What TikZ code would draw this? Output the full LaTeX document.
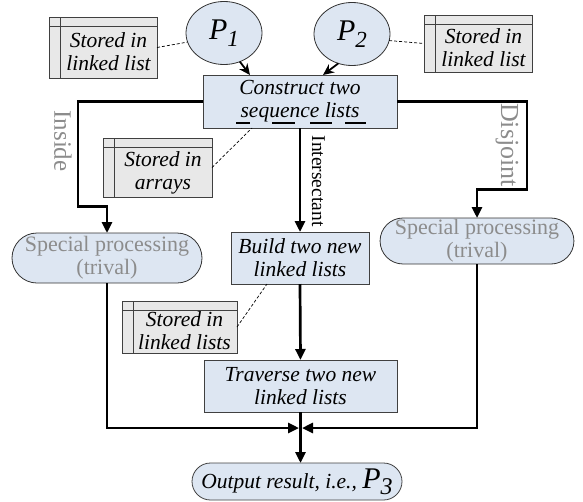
\documentclass[tikz,border=0pt]{standalone}
\usepackage{fontspec}
\setmainfont{Liberation Serif}
\usetikzlibrary{arrows.meta,shapes.geometric,shapes.misc,calc}
\definecolor{boxblue}{RGB}{221,230,242}
\definecolor{storegray}{RGB}{232,232,232}
\definecolor{labelgray}{RGB}{140,140,140}
\begin{document}
\begin{tikzpicture}[x=1pt,y=-1pt,
  every node/.style={inner sep=0pt, outer sep=0pt},
  proc/.style={draw=black!75, line width=0.8pt, fill=boxblue, align=center,
    font=\fontsize{21.5}{23}\selectfont\itshape},
  pnode/.style={ellipse, draw=black!80, line width=0.8pt, fill=boxblue,
    minimum width=76pt, minimum height=63pt},
  store/.style={draw=black!75, line width=0.8pt, fill=storegray,
    path picture={\draw[black!75, line width=0.7pt]
      ([xshift=11pt]path picture bounding box.north west) -- ([xshift=11pt]path picture bounding box.south west)
      ([yshift=-9pt]path picture bounding box.north west) -- ([yshift=-9pt]path picture bounding box.north east);}},
  storetext/.style={align=center, font=\fontsize{21.5}{23}\selectfont\itshape},
  spec/.style={rounded rectangle, draw=black!80, line width=0.8pt, fill=boxblue, align=center,
    text=labelgray, font=\fontsize{22}{23}\selectfont},
  flow/.style={line width=2.7pt, -{Triangle[length=11pt,width=10pt]}},
  parrow/.style={line width=1.8pt, -{Stealth[length=11pt,width=10pt]}},
  note/.style={line width=0.7pt, dash pattern=on 3pt off 2pt},
  side/.style={rotate=-90, text=labelgray}
]
\useasboundingbox (0,0) rectangle (583,501);

% ellipses
\node[pnode] (P1) at (224,33) {\fontsize{30}{30}\selectfont\itshape P\raisebox{-7pt}{\fontsize{23}{23}\selectfont 1}};
\node[pnode] (P2) at (352,34) {\fontsize{30}{30}\selectfont\itshape P\raisebox{-7pt}{\fontsize{23}{23}\selectfont 2}};

% storage boxes
\node[store, minimum width=108pt, minimum height=61pt,
  label={[storetext, xshift=5.5pt, yshift=-4pt]center:Stored in\\linked list}] (ls) at (103,47.5) {};
\node[store, minimum width=108pt, minimum height=57pt,
  label={[storetext, xshift=5.5pt, yshift=-4pt]center:Stored in\\linked list}] (rs) at (478,43.5) {};
\node[store, minimum width=109pt, minimum height=59pt,
  label={[storetext, xshift=5.5pt, yshift=-5pt]center:Stored in\\arrays}] (arr) at (157.5,167.5) {};
\node[store, minimum width=115pt, minimum height=52pt,
  label={[storetext, xshift=5pt, yshift=-4pt]center:Stored in\\linked lists}] (ll) at (179.5,327) {};

% process boxes
\node[proc, minimum width=194pt, minimum height=53pt] (con) at (300,101.5) {Construct two\\sequence lists};
\node[proc, minimum width=138pt, minimum height=52pt] (build) at (300,258) {Build two new\\linked lists};
\node[proc, minimum width=193pt, minimum height=52pt] (trav) at (300.5,386) {Traverse two new\\linked lists};
\node[proc, rounded rectangle, minimum width=210pt, minimum height=37pt] (out) at (297,481.5)
  {Output result, i.e., {\fontsize{30}{30}\selectfont P\raisebox{-6pt}{\fontsize{24}{24}\selectfont 3}}};

% special processing
\node[spec, minimum width=190pt, minimum height=50pt] (lsp) at (107,258) {Special processing\\(trival)};
\node[spec, minimum width=192pt, minimum height=46pt] (rsp) at (477,241) {Special processing\\(trival)};

% underlines
\foreach \a/\b in {33/47,69/92,107/129,142/163}
  \draw[line width=1.1pt] ([shift={(\a,-5)}]con.south west) -- ([shift={(\b,-5)}]con.south west);

% side labels
\node[side, font=\fontsize{25}{25}\selectfont] (inside) at (63,141) {Inside};
\node[side, font=\fontsize{26}{26}\selectfont] (disj) at (507,145) {Disjoint};
\node[rotate=-90, font=\fontsize{19.5}{20}\selectfont] (inter) at (318.5,181) {Intersectant};

% dashed notes
\draw[note] (ls.east) -- (P1.194);
\draw[note] (P2.-10) -- (rs.west);
\draw[note] (arr.east) -- ([xshift=-48pt]con.south);
\draw[note] (ll.east) -- ([xshift=-33pt]build.south);

% P arrows
\draw[parrow] (P1.-61) -- ([xshift=-50pt]con.north);
\draw[parrow] (P2.-115) -- ([xshift=23pt]con.north);

% flow
\coordinate (join) at (300.5,428);
\draw[flow] (con.west) -- ++(-125,0) -- ++(0,105) -| (lsp.north);
\draw[flow] (con.east) -- ++(130,0) -- ++(0,88) -| (rsp.north);
\draw[flow] (con.south) -- (build.north);
\draw[flow] (build.south) -- (trav.north);
\draw[flow] (lsp.south) |- ([xshift=-1.5pt]join);
\draw[flow] (rsp.south) |- ([xshift=1.5pt]join);
\draw[flow] (trav.south) -- (trav.south |- out.north);
\end{tikzpicture}
\end{document}
